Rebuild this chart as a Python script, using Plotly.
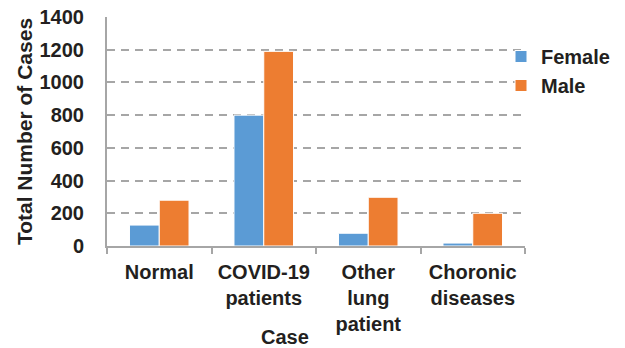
import plotly.graph_objects as go

categories = ["Normal", "COVID-19<br>patients", "Other<br>lung<br>patient", "Choronic<br>diseases"]
female = [128, 800, 78, 18]
male = [280, 1190, 298, 200]
y_ticks = [0, 200, 400, 600, 800, 1000, 1200, 1400]

FONT = "Liberation Sans, Arial, sans-serif"
GRID = "#A6A6A6"
TXT = "#231F20"
FS = 21

# page body has an 8px margin, so the figure is sized/offset to compensate
W, H = 617, 340

fig = go.Figure()
fig.add_trace(go.Bar(name="Female", x=categories, y=female,
                     marker=dict(color="#5B9BD5", line=dict(color="white", width=1))))
fig.add_trace(go.Bar(name="Male", x=categories, y=male,
                     marker=dict(color="#ED7D31", line=dict(color="white", width=1))))

fig.update_layout(
    width=W, height=H,
    margin=dict(l=99, r=100, t=9, b=102, autoexpand=False),
    paper_bgcolor="white", plot_bgcolor="white",
    barmode="group", bargap=0.43, bargroupgap=0,
    font=dict(family=FONT, size=FS, color=TXT),
    legend=dict(xref="container", yref="container", x=493 / W, y=1 - 29 / H,
                xanchor="left", yanchor="top",
                font=dict(size=20, family=FONT, color=TXT, weight="bold"),
                itemwidth=30, tracegroupgap=6, bgcolor="rgba(0,0,0,0)"),
    xaxis=dict(
        automargin=False, tickangle=0,
        showline=True, linecolor=GRID, linewidth=2,
        ticks="outside", tickson="boundaries", ticklen=6, tickcolor=GRID, tickwidth=2,
        ticklabelstandoff=7,
        tickfont=dict(size=20, family=FONT, color=TXT, weight="bold"),
        showgrid=False,
    ),
    yaxis=dict(
        automargin=False,
        range=[0, 1400], tickvals=y_ticks,
        showline=True, linecolor=GRID, linewidth=2,
        showgrid=True, gridcolor=GRID, gridwidth=2, griddash="8px,6px",
        ticks="", ticklabelstandoff=17, ticklabeloverflow="allow",
        tickfont=dict(size=20, family=FONT, color=TXT, weight="bold"),
        title=dict(text="<b>Total Number of Cases</b>", standoff=1,
                   font=dict(size=FS, family=FONT, color=TXT)),
        zeroline=False,
    ),
)

fig.add_annotation(text="<b>Case</b>", xref="paper", yref="paper",
                   x=(285 - 107) / 418, y=(246 - 337) / 229, xanchor="center", yanchor="middle",
                   showarrow=False, font=dict(size=20, family=FONT, color=TXT))

fig.write_html("out.html")
